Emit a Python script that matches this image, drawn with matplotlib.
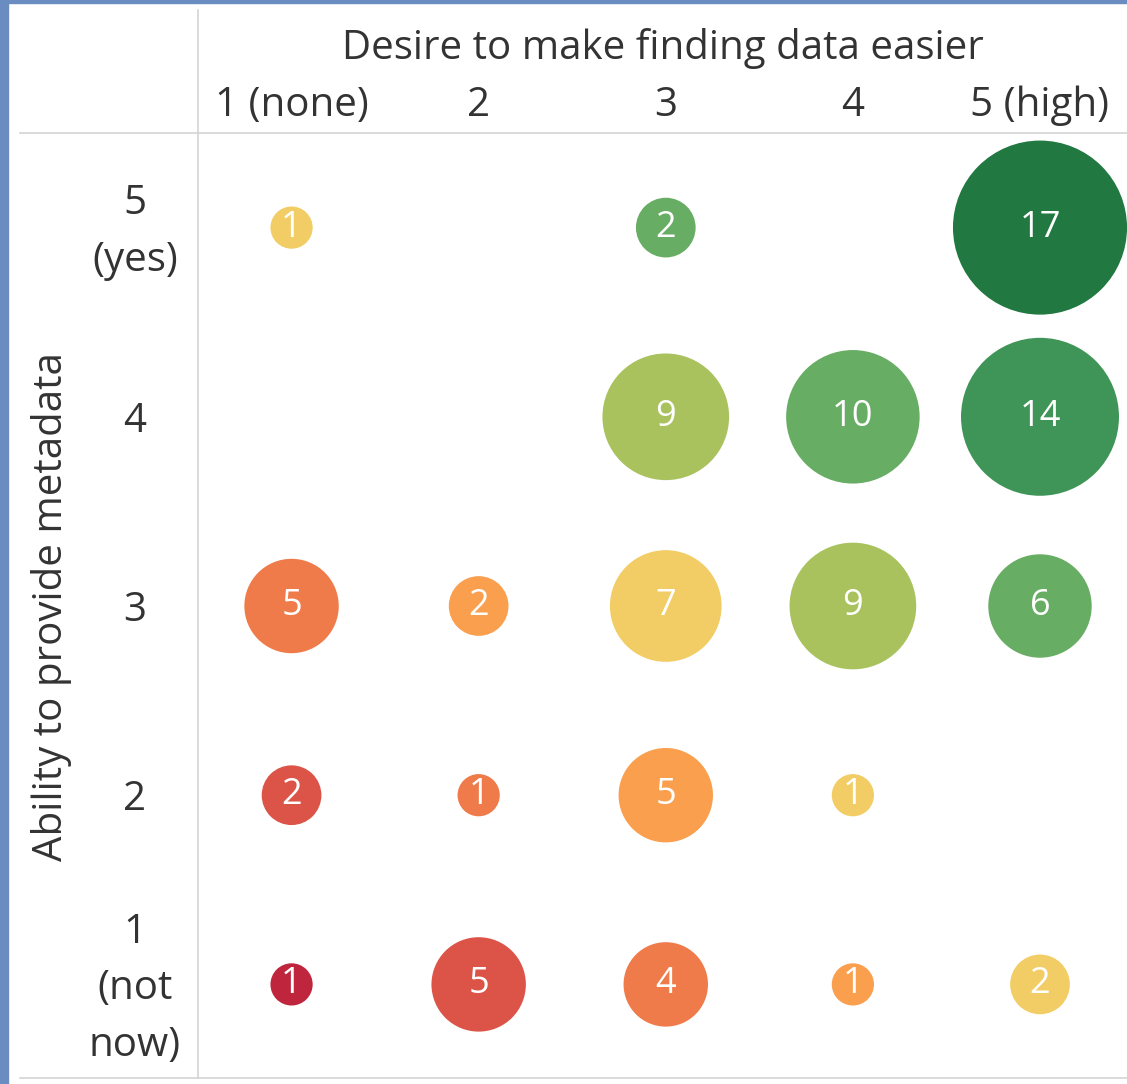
import matplotlib
matplotlib.use("Agg")
import matplotlib.pyplot as plt
from matplotlib.lines import Line2D
from matplotlib.patches import Rectangle
import matplotlib.transforms as mtransforms

plt.rcParams["font.family"] = ["Open Sans", "DejaVu Sans"]

# survey answers: x = desire to make finding data easier, y = ability to provide metadata
desire = [1, 3, 5, 3, 4, 5, 1, 2, 3, 4, 5, 1, 2, 3, 4, 1, 2, 3, 4, 5]
ability = [5, 5, 5, 4, 4, 4, 3, 3, 3, 3, 3, 2, 2, 2, 2, 1, 1, 1, 1, 1]
counts = [1, 2, 17, 9, 10, 14, 5, 2, 7, 9, 6, 2, 1, 5, 1, 1, 5, 4, 1, 2]

x_labels = ["1 (none)", "2", "3", "4", "5 (high)"]
y_labels = ["1\n(not\nnow)", "2", "3", "4", "5\n(yes)"]

# colour follows the sum of both ratings (2 .. 10), red -> yellow -> green
sum_colors = {
    2: "#c0253e",
    3: "#dc5447",
    4: "#ef7b4b",
    5: "#f99f4e",
    6: "#f2cd65",
    7: "#a9c25e",
    8: "#68ad64",
    9: "#3f9457",
    10: "#217841",
}

TEXT = "#333333"
GRID = "#d4d4d4"
FS = 29

W, H = 1127, 1084
fig = plt.figure(figsize=(W / 100, H / 100), dpi=100)
fig.patch.set_facecolor("white")

# frame of the dashboard
fig.patches.append(Rectangle((0, 0), 8 / W, 1, transform=fig.transFigure,
                             color="#6b8cc0", zorder=5))
fig.patches.append(Rectangle((0, 1 - 3 / H), 1, 3 / H, transform=fig.transFigure,
                             color="#6b8cc0", zorder=5))

left, top, bottom = 198, 133, 1079
ax = fig.add_axes([left / W, (H - bottom) / H, (W - left) / W, (bottom - top) / H])
ax.set_xlim(0.5, 5.465)
ax.set_ylim(0.5, 5.5)
for s in ax.spines.values():
    s.set_visible(False)

colors = [sum_colors[d + a] for d, a in zip(desire, ability)]
sizes = [c * 924 for c in counts]
ax.scatter(desire, ability, s=sizes, c=colors, linewidths=0, zorder=3)
for d, a, c in zip(desire, ability, counts):
    ax.text(d, a, str(c), ha="center", va="center", color="white",
            fontsize=26, zorder=4)

ax.xaxis.tick_top()
ax.set_xticks(range(1, 6))
ax.set_xticklabels(x_labels)
ax.tick_params(axis="x", length=0, pad=5, labelsize=FS, colors=TEXT)
ax.xaxis.set_label_position("top")
ax.set_xlabel("Desire to make finding data easier", fontsize=FS, color=TEXT, labelpad=19)

ax.set_yticks([])
trans = mtransforms.blended_transform_factory(ax.transAxes, ax.transData)
for i, lab in enumerate(y_labels):
    ax.text(-0.068, i + 1 - 0.025, lab, transform=trans, ha="center", va="center",
            fontsize=FS, color=TEXT, linespacing=1.52)

fig.text(52 / W, 1 - 607 / H, "Ability to provide metadata", rotation=90,
         ha="center", va="center", fontsize=FS, color=TEXT)

# table rules
fig.lines.append(Line2D([left / W, left / W], [1 - 10 / H, 1 - 1078 / H],
                        transform=fig.transFigure, color=GRID, lw=1.2))
fig.lines.append(Line2D([20 / W, 1], [1 - top / H, 1 - top / H],
                        transform=fig.transFigure, color=GRID, lw=1.2))
fig.lines.append(Line2D([20 / W, 1], [1 - 1078 / H, 1 - 1078 / H],
                        transform=fig.transFigure, color=GRID, lw=1.2))

fig.savefig("out.png", dpi=100)
